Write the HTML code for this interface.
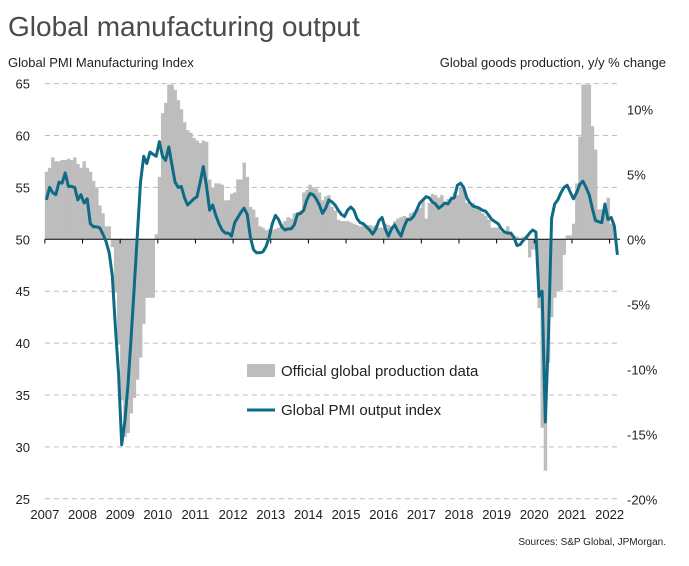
<!DOCTYPE html>
<html><head><meta charset="utf-8"><style>
body{margin:0;background:#fff;font-family:"Liberation Sans",sans-serif;}
svg text{font-family:"Liberation Sans",sans-serif;}
</style></head><body>
<svg id="chart" width="689" height="561" xmlns="http://www.w3.org/2000/svg">
<text x="8" y="36" font-size="28" fill="#4a4a4a">Global manufacturing output</text>
<text x="8" y="67" font-size="13" fill="#222">Global PMI Manufacturing Index</text>
<text x="666" y="67" font-size="13" fill="#222" text-anchor="end">Global goods production, y/y % change</text>
<g id="grid"></g><g id="bars"></g><g id="axes"></g><g id="lineg"></g>
<g>
<rect x="247" y="364" width="28" height="13" fill="#bdbdbd"/>
<text x="281" y="376" font-size="15" fill="#222">Official global production data</text>
<line x1="247" y1="410" x2="275" y2="410" stroke="#0f6b85" stroke-width="3"/>
<text x="281" y="415" font-size="15" fill="#222">Global PMI output index</text>
</g>
<text x="666" y="545" font-size="10" fill="#222" text-anchor="end">Sources: S&amp;P Global, JPMorgan.</text>
</svg>
<script>
const pmi = [
53.8,55.0,54.5,54.3,55.5,55.4,56.4,55.1,55.1,55.0,53.8,54.3,
53.5,53.9,51.5,51.2,51.2,51.1,50.5,49.8,48.7,46.5,41.5,37.0,
30.2,32.5,36.0,40.5,45.5,50.5,55.5,58.0,57.3,58.4,58.2,58.0,
59.4,58.0,57.6,58.9,57.2,55.5,55.0,55.1,54.0,53.3,53.6,53.9,
54.1,55.5,57.0,55.2,52.8,53.3,52.3,51.5,50.9,50.6,50.6,50.3,
51.6,52.1,52.6,53.0,52.4,50.2,49.0,48.7,48.7,48.8,49.3,50.2,
51.5,52.3,51.9,51.2,50.9,51.0,51.0,51.4,52.4,52.5,52.8,53.8,
54.4,54.3,53.9,53.3,52.5,53.0,53.8,53.6,53.3,52.8,52.4,52.2,
52.8,53.1,52.8,52.0,51.6,51.5,51.2,50.9,50.5,51.0,51.8,52.1,
51.0,50.3,51.0,51.4,50.8,50.3,51.2,51.9,51.9,52.2,52.8,53.5,
53.8,54.1,54.0,53.6,53.4,53.0,53.2,53.5,53.4,53.9,54.0,55.2,
55.4,55.0,54.0,53.5,53.2,53.1,53.0,52.8,52.7,52.3,51.9,51.7,
51.5,51.0,50.7,50.6,50.6,50.2,49.4,49.5,49.9,50.2,50.6,50.9,
50.7,44.5,45.0,32.4,40.5,52.0,53.4,53.8,54.5,55.0,55.2,54.5,
53.9,54.5,55.3,55.6,55.0,54.3,53.0,51.8,51.7,51.6,53.4,51.9,
52.1,51.3,48.5];
const prod = [
5.2,5.5,6.3,6.0,6.0,6.1,6.1,6.2,6.1,6.3,5.8,5.5,
6.0,5.5,5.2,4.5,4.0,2.6,2.0,1.0,1.0,-0.6,-4.1,-8.1,
-12.4,-15.2,-14.9,-13.4,-12.2,-10.8,-9.1,-6.5,-4.5,-4.5,-4.5,0.4,
4.8,9.7,10.5,11.9,11.9,11.5,10.7,10.0,9.0,8.4,8.2,7.8,
7.6,7.4,7.6,7.5,4.6,4.0,4.3,4.3,4.2,3.0,3.0,3.5,
3.6,4.6,4.6,5.9,4.8,2.5,2.3,1.7,1.0,0.9,0.7,0.8,
0.7,0.8,0.9,1.2,1.4,1.7,1.6,2.0,2.1,2.2,3.6,3.8,
4.2,4.0,3.9,3.6,3.0,3.3,3.4,2.5,2.2,1.5,1.4,1.4,
1.4,1.3,1.2,1.1,1.0,1.2,1.1,1.1,1.0,1.1,0.9,0.9,
1.2,1.1,1.0,1.4,1.6,1.7,1.8,1.7,2.0,2.1,2.2,2.4,
3.0,1.6,2.8,3.5,3.4,3.2,3.4,2.8,3.1,3.3,3.6,3.4,
4.0,3.8,2.8,2.6,2.8,2.4,2.3,2.0,1.8,1.5,0.9,0.9,
0.9,0.6,0.6,1.0,0.6,0.2,0.2,0.1,0.2,0.3,-1.4,-0.8,
-0.8,-5.3,-14.5,-17.8,-9.5,-6.0,-4.5,-4.0,-3.9,-1.2,0.3,0.3,
1.2,4.3,7.9,11.9,11.9,11.9,8.7,6.9,2.3,2.3,2.0,3.2,
1.2,0.8];
const leftTicks = [65,60,55,50,45,40,35,30,25];
const rightTicks = [10,5,0,-5,-10,-15,-20];
const yearLabels = [2007,2008,2009,2010,2011,2012,2013,2014,2015,2016,2017,2018,2019,2020,2021,2022];

const NS='http://www.w3.org/2000/svg';
const X0=44.85, YEARW=37.65, MW=YEARW/12;
const xM = i => X0 + i*MW;
const yL = v => 239.3 - (v-50)*10.38;
const yR = p => 239.3 - p*13;
const TOP=84, BOT=499, RIGHT=620;
function mk(tag, attrs, parent){const e=document.createElementNS(NS,tag);for(const k in attrs)e.setAttribute(k,attrs[k]);parent.appendChild(e);return e;}
const grid=document.getElementById('grid'), bars=document.getElementById('bars'), axes=document.getElementById('axes'), lineg=document.getElementById('lineg');
leftTicks.forEach(v=>{
  const y=yL(v);
  if(v!==50){const g=mk('line',{x1:X0,x2:RIGHT,y1:y,y2:y,stroke:'#bcbcbc','stroke-width':1,'stroke-dasharray':'5,4'},grid);
  
  }
  const t=mk('text',{x:30,y:y+5,'font-size':13,fill:'#222','text-anchor':'end'},axes);t.textContent=v;
  
  
});
rightTicks.forEach(p=>{
  const t=mk('text',{x:627,y:yR(p)+5,'font-size':13,fill:'#222'},axes);t.textContent=p+'%';
  
  
});
prod.forEach((p,i)=>{
  const v=Math.max(-25,Math.min(p,(239.3-TOP)/13));
  const y0=yR(0), y1=yR(v);
  const r=mk('rect',{x:xM(i),y:Math.min(y0,y1),width:MW+0.3,height:Math.abs(y1-y0),fill:'#bdbdbd'},bars);
  
  
});
const zl=mk('line',{x1:X0,x2:RIGHT,y1:yL(50),y2:yL(50),stroke:'#000','stroke-width':1},axes);


yearLabels.forEach((yr,k)=>{
  const x=X0+k*YEARW;
  const tk=mk('line',{x1:x,x2:x,y1:239.3,y2:243.5,stroke:'#000','stroke-width':1},axes);
  
  
  const t=mk('text',{x:x,y:519,'font-size':13,fill:'#222','text-anchor':'middle'},axes);t.textContent=yr;
  
  
});
const pts=pmi.map((v,i)=>(xM(i)+MW/2).toFixed(1)+','+yL(v).toFixed(1)).join(' ');
const pl=mk('polyline',{points:pts,fill:'none',stroke:'#0f6b85','stroke-width':3,'stroke-linejoin':'round'},lineg);


</script>
</body></html>
